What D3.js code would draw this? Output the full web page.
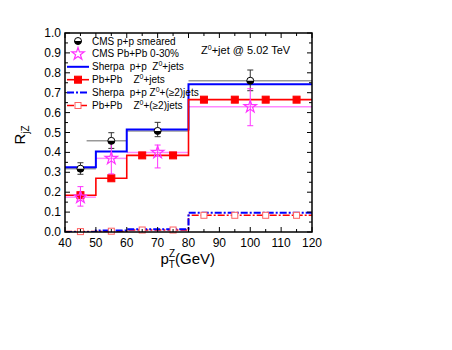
<!DOCTYPE html>
<html>
<head>
<meta charset="utf-8">
<script src="https://cdn.jsdelivr.net/npm/d3@7"></script>
<style>
  body { margin: 0; background: #fff; }
  text { font-family: "Liberation Sans", Arial, sans-serif; white-space: pre; }
</style>
</head>
<body>
<div id="chart"></div>
<script>
// bin edges of the Sherpa p+p histograms
var binEdges = [40, 50, 60, 80, 120];
var sherpaPP = [0.325, 0.405, 0.515, 0.742];
var sherpaPP2 = [0.0, 0.007, 0.014, 0.097];

// Pb+Pb predictions, 10 GeV sub-bins (markers at centres)
var pbCenters = [45, 55, 65, 75, 85, 95, 105, 115];
var pbpbZjets = [0.185, 0.27, 0.385, 0.385, 0.665, 0.665, 0.665, 0.665];
var pbpbZ2jets = [0.002, 0.004, 0.01, 0.01, 0.084, 0.084, 0.084, 0.084];

// CMS data
var cmsX = [45, 55, 70, 100];
var ppVal = [0.318, 0.458, 0.508, 0.76];
var ppLo = [0.29, 0.42, 0.479, 0.71];
var ppHi = [0.348, 0.499, 0.551, 0.814];
var ppXlo = [40, 47, 60, 80];
var ppXhi = [50, 60, 80, 120];

var pbVal = [0.175, 0.37, 0.40, 0.63];
var pbLo = [0.13, 0.292, 0.322, 0.534];
var pbHi = [0.228, 0.447, 0.437, 0.72];
var pbXlo = [40, 50, 60, 80];
var pbXhi = [50, 60, 80, 120];

var xTicks = [40, 50, 60, 70, 80, 90, 100, 110, 120];
var yTicks = [0, 0.1, 0.2, 0.3, 0.4, 0.5, 0.6, 0.7, 0.8, 0.9, 1.0];

var W = 452, H = 350;
var margin = {left: 65, top: 33, right: 140, bottom: 118};
var width = W - margin.left - margin.right;
var height = H - margin.top - margin.bottom;

var svg = d3.select("#chart").append("svg")
    .attr("width", W).attr("height", H);
var g = svg.append("g")
    .attr("transform", "translate(" + margin.left + "," + margin.top + ")");

var x = d3.scaleLinear().domain([40, 120]).range([0, width]);
var y = d3.scaleLinear().domain([0, 1]).range([height, 0]);

svg.append("clipPath").attr("id", "plotclip")
    .append("rect").attr("width", width).attr("height", height);
var plot = g.append("g").attr("clip-path", "url(#plotclip)");

// histogram as step path
function stepPath(edges, vals) {
    var pts = [];
    vals.forEach(function (v, i) {
        pts.push([edges[i], v]);
        pts.push([edges[i + 1], v]);
    });
    return d3.line().x(function (d) { return x(d[0]); })
        .y(function (d) { return y(d[1]); })(pts);
}
var pbEdges = pbCenters.map(function (c) { return c - 5; }).concat([120]);

// CMS x-error bars
cmsX.forEach(function (c, i) {
    plot.append("line").attr("x1", x(ppXlo[i])).attr("x2", x(ppXhi[i]))
        .attr("y1", y(ppVal[i])).attr("y2", y(ppVal[i]))
        .attr("stroke", "#999").attr("stroke-width", 1.5);
    plot.append("line").attr("x1", x(pbXlo[i])).attr("x2", x(pbXhi[i]))
        .attr("y1", y(pbVal[i])).attr("y2", y(pbVal[i]))
        .attr("stroke", "#ff88ff").attr("stroke-width", 1.5);
});

plot.append("path").attr("d", stepPath(binEdges, sherpaPP))
    .attr("fill", "none").attr("stroke", "#0000ff").attr("stroke-width", 2);
plot.append("path").attr("d", stepPath(pbEdges, pbpbZjets))
    .attr("fill", "none").attr("stroke", "#ff0000").attr("stroke-width", 1.6);
plot.append("path").attr("d", stepPath(pbEdges, pbpbZ2jets))
    .attr("fill", "none").attr("stroke", "#ff0000").attr("stroke-width", 1.5)
    .attr("stroke-dasharray", "7,2,2,2");
plot.append("path").attr("d", stepPath(binEdges, sherpaPP2))
    .attr("fill", "none").attr("stroke", "#0000ff").attr("stroke-width", 2)
    .attr("stroke-dasharray", "7,2,2,2");

// square markers
function square(sel, cx, cy, s, filled) {
    sel.append("rect").attr("x", cx - s / 2).attr("y", cy - s / 2)
        .attr("width", s).attr("height", s)
        .attr("fill", filled ? "#ff0000" : "#fff")
        .attr("stroke", filled ? "#ff0000" : "#ff6060")
        .attr("stroke-width", 1);
}
pbCenters.forEach(function (c, i) {
    square(g, x(c), y(pbpbZjets[i]), 7, true);
    square(g, x(c), y(pbpbZ2jets[i]), 6, false);
});

// vertical error bars with caps
function errBar(sel, cx, lo, hi, color) {
    sel.append("line").attr("x1", cx).attr("x2", cx)
        .attr("y1", y(lo)).attr("y2", y(hi))
        .attr("stroke", color).attr("stroke-width", 1);
    [lo, hi].forEach(function (v) {
        sel.append("line").attr("x1", cx - 3).attr("x2", cx + 3)
            .attr("y1", y(v)).attr("y2", y(v))
            .attr("stroke", color).attr("stroke-width", 1);
    });
}

function halfCircle(sel, cx, cy, r) {
    sel.append("circle").attr("cx", cx).attr("cy", cy).attr("r", r)
        .attr("fill", "#fff").attr("stroke", "#000").attr("stroke-width", 1);
    sel.append("path")
        .attr("d", "M" + (cx - r) + "," + cy + " A" + r + "," + r + " 0 0,0 " + (cx + r) + "," + cy + " Z")
        .attr("fill", "#000");
}

var star = d3.symbol().type(d3.symbolStar).size(48);
function starMark(sel, cx, cy) {
    sel.append("path").attr("d", star())
        .attr("transform", "translate(" + cx + "," + cy + ")")
        .attr("fill", "none").attr("stroke", "#ff33ff").attr("stroke-width", 1.2);
}

cmsX.forEach(function (c, i) {
    errBar(g, x(c), ppLo[i], ppHi[i], "#333");
    errBar(g, x(c), pbLo[i], pbHi[i], "#ff33ff");
    halfCircle(g, x(c), y(ppVal[i]), 3.5);
    starMark(g, x(c), y(pbVal[i]));
});

// frame and ticks
g.append("rect").attr("width", width).attr("height", height)
    .attr("fill", "none").attr("stroke", "#000").attr("stroke-width", 1.5);

var tickG = g.append("g").attr("stroke", "#000").attr("stroke-width", 1);
d3.range(40, 121, 5).forEach(function (v) {
    var len = v % 10 === 0 ? 5 : 3;
    tickG.append("line").attr("x1", x(v)).attr("x2", x(v))
        .attr("y1", height).attr("y2", height - len);
    tickG.append("line").attr("x1", x(v)).attr("x2", x(v))
        .attr("y1", 0).attr("y2", len);
});
d3.range(0, 21).forEach(function (k) {
    var v = k * 0.05;
    var len = k % 2 === 0 ? 5 : 3;
    tickG.append("line").attr("x1", 0).attr("x2", len)
        .attr("y1", y(v)).attr("y2", y(v));
    tickG.append("line").attr("x1", width).attr("x2", width - len)
        .attr("y1", y(v)).attr("y2", y(v));
});

g.selectAll(".xl").data(xTicks).enter().append("text")
    .attr("x", function (d) { return x(d); })
    .attr("y", height + 15)
    .attr("text-anchor", "middle").attr("font-size", 12)
    .text(function (d) { return d; });
g.selectAll(".yl").data(yTicks).enter().append("text")
    .attr("x", -4).attr("y", function (d) { return y(d) + 4; })
    .attr("text-anchor", "end").attr("font-size", 12)
    .text(function (d) { return d3.format(".1f")(d); });

// axis titles
var xt = g.append("text").attr("x", width / 2 - 28).attr("y", height + 32)
    .attr("font-size", 15);
xt.append("tspan").text("p");
xt.append("tspan").attr("font-size", 10).attr("dy", 4).text("T");
xt.append("tspan").attr("font-size", 10).attr("dx", -6).attr("dy", -11).text("Z");
xt.append("tspan").attr("dy", 7).text("(GeV)");

var yt = svg.append("text")
    .attr("transform", "translate(25," + (margin.top + height / 2 + 12) + ") rotate(-90)")
    .attr("font-size", 15);
yt.append("tspan").text("R");
yt.append("tspan").attr("font-size", 10).attr("dy", 4).text("jZ");

g.append("text").attr("x", 136).attr("y", 21).attr("font-size", 11)
    .html("Z<tspan font-size='7' dy='-4'>0</tspan><tspan dy='4'>+jet @ 5.02 TeV</tspan>");

// legend
var legend = [
    {label: "CMS p+p smeared", kind: "pp"},
    {label: "CMS Pb+Pb 0-30%", kind: "pb"},
    {label: "Sherpa  p+p  Z|0|+jets", kind: "blue"},
    {label: "Pb+Pb    Z|0|+jets", kind: "red"},
    {label: "Sherpa  p+p Z|0|+(\u22652)jets", kind: "blue2"},
    {label: "Pb+Pb    Z|0|+(\u22652)jets", kind: "red2"}
];
legend.forEach(function (d, i) {
    var ly = 8 + i * 12.9;
    var lx0 = 2, lx1 = 24, mx = 13;
    if (d.kind === "pp") halfCircle(g, mx, ly, 3.5);
    if (d.kind === "pb") starMark(g, mx, ly);
    if (d.kind === "blue" || d.kind === "blue2" || d.kind === "red" || d.kind === "red2") {
        var ln = g.append("line").attr("x1", lx0).attr("x2", lx1)
            .attr("y1", ly).attr("y2", ly)
            .attr("stroke", d.kind.indexOf("blue") === 0 ? "#0000ff" : "#ff0000")
            .attr("stroke-width", d.kind.indexOf("blue") === 0 ? 2 : 1.6);
        if (d.kind.slice(-1) === "2") ln.attr("stroke-dasharray", "7,2,2,2");
    }
    if (d.kind === "red") square(g, mx, ly, 7, true);
    if (d.kind === "red2") square(g, mx, ly, 6, false);
    var t = g.append("text").attr("x", 27).attr("y", ly + 3.5).attr("font-size", 10);
    var parts = d.label.split("|");
    t.append("tspan").text(parts[0]);
    if (parts.length > 1) {
        t.append("tspan").attr("font-size", 7).attr("dy", -4).text(parts[1]);
        t.append("tspan").attr("dy", 4).text(parts[2]);
    }
});
</script>
</body>
</html>
